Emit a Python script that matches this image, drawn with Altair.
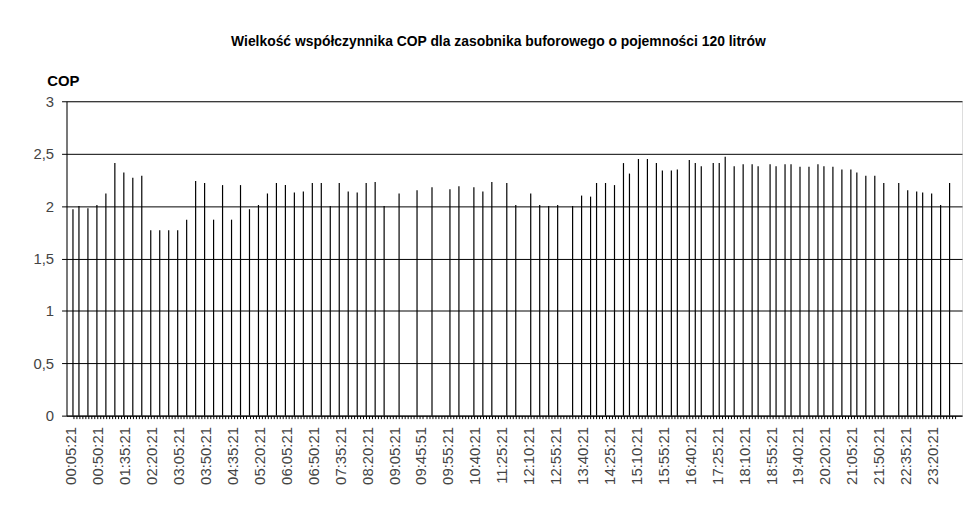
import altair as alt
import pandas as pd

title_text = "Wielkość współczynnika COP dla zasobnika buforowego o pojemności 120 litrów"

tick_labels = [
    "00:05:21", "00:50:21", "01:35:21", "02:20:21", "03:05:21", "03:50:21",
    "04:35:21", "05:20:21", "06:05:21", "06:50:21", "07:35:21", "08:20:21",
    "09:05:21", "09:45:51", "09:55:21", "10:40:21", "11:25:21", "12:10:21",
    "12:55:21", "13:40:21", "14:25:21", "15:10:21", "15:55:21", "16:40:21",
    "17:25:21", "18:10:21", "18:55:21", "19:40:21", "20:20:21", "21:05:21",
    "21:50:21", "22:35:21", "23:20:21",
]

# index of the record (category slot) on the category axis
sample_index = [
    0, 2, 5, 8, 11, 14, 17, 20, 23, 26, 29, 32, 35, 38, 41, 44, 47, 50, 53, 56,
    59, 62, 65, 68, 71, 74, 77, 80, 83, 86, 89, 92, 95, 98,
    101, 104, 109, 115, 120, 126, 129, 134, 137, 140, 145, 148, 153, 156, 159,
    162, 167, 170, 173, 175, 178, 181, 184, 186, 189, 192, 195, 197,
    200, 202, 206, 208, 210, 214, 216, 218, 221, 224, 227, 229, 233, 235, 238,
    240, 243, 246, 249, 251, 254, 257, 260, 262, 265, 268, 271, 276, 279, 282,
    284, 287, 290, 293,
]

cop_values = [
    1.97, 2.00, 1.98, 2.01, 2.12, 2.41, 2.32, 2.27, 2.29, 1.77, 1.77, 1.77, 1.77,
    1.87, 2.24, 2.22, 1.87, 2.20, 1.87, 2.20, 1.97, 2.01, 2.12, 2.22, 2.20, 2.13,
    2.14, 2.22, 2.22, 2.00, 2.22, 2.14, 2.13, 2.22,
    2.23, 2.00, 2.12, 2.15, 2.18, 2.16, 2.19, 2.18, 2.14, 2.23, 2.22, 2.01, 2.12,
    2.01, 2.00, 2.01, 2.00, 2.10, 2.09, 2.22, 2.22, 2.20, 2.41, 2.31, 2.45, 2.45,
    2.41, 2.34,
    2.34, 2.35, 2.44, 2.41, 2.38, 2.41, 2.41, 2.47, 2.38, 2.40, 2.40, 2.38, 2.40,
    2.38, 2.40, 2.40, 2.375, 2.375, 2.40, 2.38, 2.375, 2.35, 2.35, 2.32, 2.29,
    2.29, 2.22, 2.22, 2.15, 2.14, 2.13, 2.12, 2.01, 2.22,
]

y_ticks = [0, 0.5, 1, 1.5, 2, 2.5, 3]
n_slots = 296
label_step = 9

df = pd.DataFrame({"sample": sample_index, "COP": cop_values})

label_array = "[" + ",".join(f"'{t}'" for t in tick_labels) + "]"
label_expr = (
    f"datum.value % {label_step} == 0 ? {label_array}[datum.value / {label_step}] : ''"
)

FONT = "Liberation Sans"

x = alt.X(
    "sample:Q",
    scale=alt.Scale(domain=[-0.5, n_slots - 0.5], nice=False, zero=False),
    axis=alt.Axis(
        values=list(range(n_slots)),
        labelExpr=label_expr,
        labelAngle=270,
        labelOverlap=False,
        labelFlush=False,
        labelBound=False,
        grid=False,
        tickSize=3,
        tickColor="black",
        domainColor="black",
        labelFont=FONT,
        labelFontSize=15,
        labelColor="#444444",
        labelPadding=8,
        labelOffset=-2,
        title=None,
    ),
)

y = alt.Y(
    "COP:Q",
    scale=alt.Scale(domain=[0, 3], nice=False),
    axis=alt.Axis(
        values=y_ticks,
        labelExpr="replace(format(datum.value, '~g'), '.', ',')",
        grid=True,
        gridColor="black",
        gridOpacity=1,
        gridWidth=1,
        tickSize=5,
        tickColor="black",
        domainColor="black",
        labelFont=FONT,
        labelFontSize=15,
        labelColor="#444444",
        labelPadding=8,
        title="COP",
        titleFont=FONT,
        titleAngle=0,
        titleFontSize=15,
        titleFontWeight="bold",
        titleColor="black",
        titleX=-20,
        titleY=-16,
        titleAlign="left",
        titleBaseline="alphabetic",
    ),
)

chart = (
    alt.Chart(df)
    .mark_bar(size=1.2, color="black")
    .encode(x=x, y=y)
    .properties(
        width=903,
        height=317,
        autosize=alt.AutoSizeParams(type="none"),
        padding={"left": 59, "top": 92, "right": 4, "bottom": 80},
        title=alt.TitleParams(
            text=title_text,
            font=FONT,
            fontSize=14,
            fontWeight="bold",
            color="black",
            anchor="middle",
            dx=-16,
            offset=25,
        ),
    )
    .configure_view(stroke="black", strokeWidth=1)
    .configure(font=FONT)
)

chart.save("out.html", embed_options={"renderer": "svg", "actions": False})
